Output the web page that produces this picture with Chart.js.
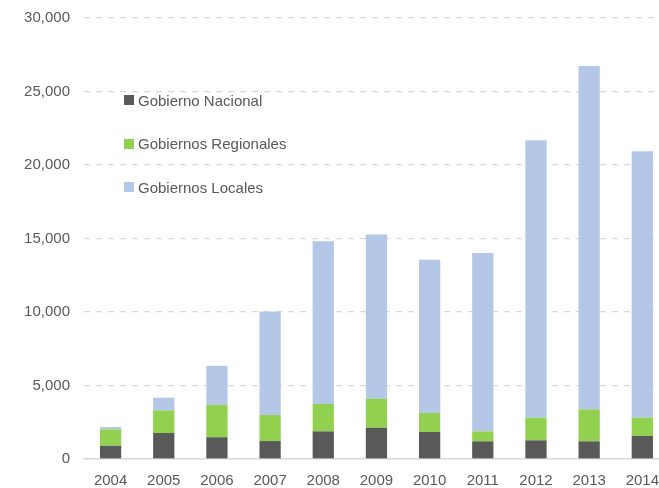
<!DOCTYPE html>
<html>
<head>
<meta charset="utf-8">
<script src="https://cdn.jsdelivr.net/npm/chart.js@4"></script>
<style>
    html, body { margin: 0; padding: 0; overflow: hidden; background: #fff; }
    #wrap { position: relative; width: 672px; height: 488px; }
    #leyenda { position: absolute; left: 124px; top: 88px; font-family: "Liberation Sans", Arial, sans-serif; font-size: 15px; color: #595959; }
    #leyenda .item { display: flex; align-items: center; height: 24px; margin-bottom: 19.5px; }
    #leyenda .caja { width: 10px; height: 10px; margin-right: 4px; }
</style>
</head>
<body>
<div id="wrap">
    <canvas id="grafico"></canvas>
    <div id="leyenda"></div>
</div>
<script>
// Datos
const anios = ['2004', '2005', '2006', '2007', '2008', '2009', '2010', '2011', '2012', '2013', '2014'];
const gobiernoNacional = [900, 1770, 1480, 1220, 1880, 2130, 1840, 1200, 1270, 1200, 1570];
const gobiernosRegionales = [1120, 1540, 2190, 1770, 1860, 1970, 1290, 680, 1540, 2180, 1240];
const gobiernosLocales = [160, 860, 2670, 7050, 11070, 11180, 10430, 12130, 18870, 23350, 18120];

const colores = ['#595959', '#92d050', '#b4c7e7'];
const gris = '#595959';
const fuente = { family: '"Liberation Sans", Arial, sans-serif', size: 15 };

const ctx = document.getElementById('grafico').getContext('2d');
const chart = new Chart(ctx, {
    type: 'bar',
    data: {
        labels: anios,
        datasets: [
            { label: 'Gobierno Nacional', data: gobiernoNacional, backgroundColor: colores[0] },
            { label: 'Gobiernos Regionales', data: gobiernosRegionales, backgroundColor: colores[1] },
            { label: 'Gobiernos Locales', data: gobiernosLocales, backgroundColor: colores[2] }
        ]
    },
    options: {
        responsive: true,
        maintainAspectRatio: false,
        animation: false,
        categoryPercentage: 1,
        barPercentage: 0.4,
        layout: { padding: { top: 18, left: 0, right: 0, bottom: 0 } },
        plugins: {
            legend: { display: false },
            tooltip: { enabled: false }
        },
        scales: {
            x: {
                stacked: true,
                grid: { display: false, drawTicks: false },
                border: { display: true, color: '#d9d9d9', width: 1.5 },
                ticks: { color: gris, font: fuente, padding: 13, maxRotation: 0 },
                afterFit: function(scale) { scale.height = 29; }
            },
            y: {
                stacked: true,
                min: 0,
                max: 30000,
                border: { display: false, dash: [6, 6] },
                grid: {
                    drawTicks: false,
                    lineWidth: 1.25,
                    color: function(c) { return c.tick && c.tick.value === 0 ? 'rgba(0,0,0,0)' : '#d9d9d9'; }
                },
                ticks: {
                    stepSize: 5000,
                    color: gris,
                    font: fuente,
                    padding: 14,
                    callback: function(value) { return value.toLocaleString('en-US'); }
                },
                afterFit: function(scale) {
                    scale.width = 84;
                    scale.paddingTop = 0;
                    scale.paddingBottom = 0;
                }
            }
        }
    }
});

// Leyenda
const leyenda = document.getElementById('leyenda');
chart.data.datasets.forEach(ds => {
    const item = document.createElement('div');
    item.className = 'item';
    item.innerHTML = `<span class="caja" style="background:${ds.backgroundColor}"></span><span>${ds.label}</span>`;
    leyenda.appendChild(item);
});
</script>
</body>
</html>
